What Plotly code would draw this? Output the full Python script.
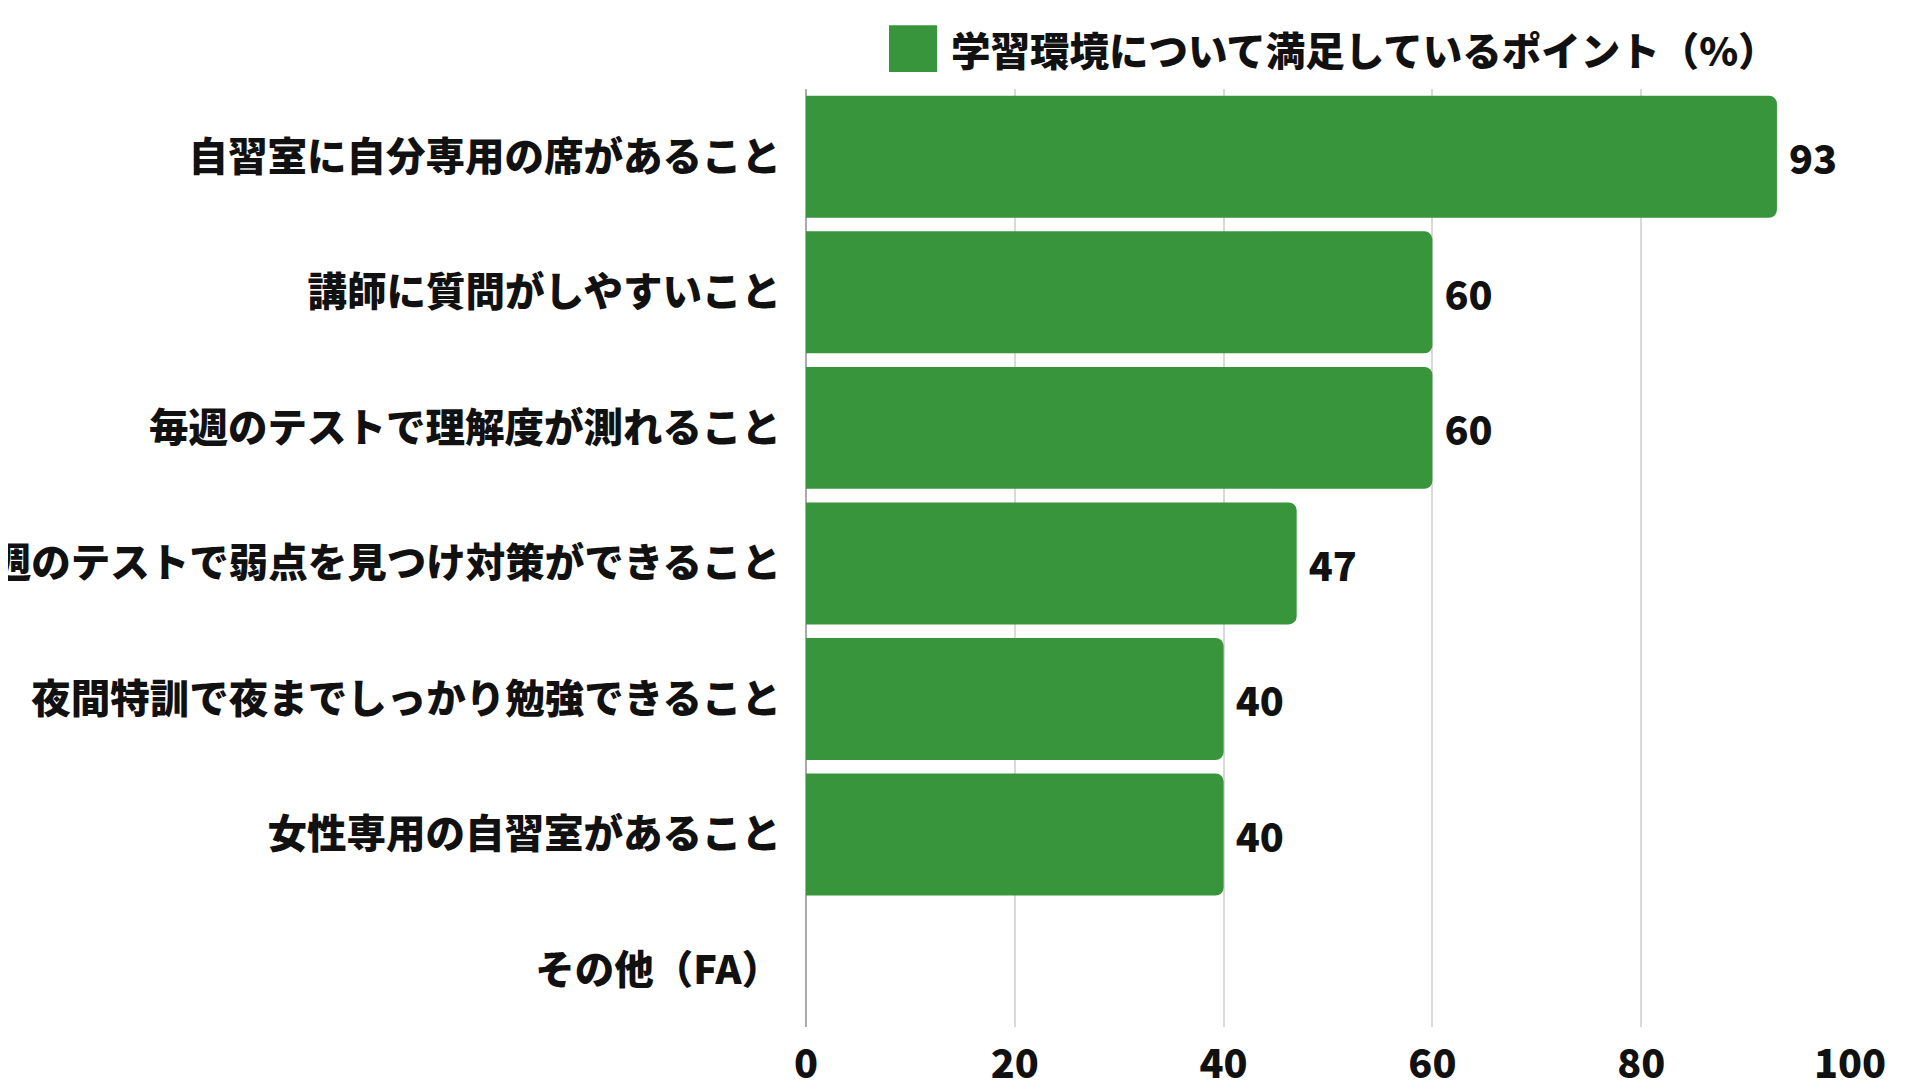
import plotly.graph_objects as go

# ─── データ ───────────────────────────────────────────────────────────────
categories = [
    "自習室に自分専用の席があること",
    "講師に質問がしやすいこと",
    "毎週のテストで理解度が測れること",
    "毎週のテストで弱点を見つけ対策ができること",
    "夜間特訓で夜までしっかり勉強できること",
    "女性専用の自習室があること",
    "その他（FA）",
]
values = [93, 60, 60, 47, 40, 40, None]
value_labels = ["93", "60", "60", "47", "40", "40", ""]
series_name = "学習環境について満足しているポイント（%）"
x_ticks = [0, 20, 40, 60, 80, 100]

GREEN = "#38953B"
FONT = "Noto Sans CJK JP"
TXT = dict(family=FONT, size=39.5, color="#111111", weight=900)

fig = go.Figure()
fig.add_trace(go.Bar(
    x=values,
    y=categories,
    orientation="h",
    marker=dict(color=GREEN, line=dict(width=0)),
    text=value_labels,
    texttemplate="\u00a0%{text}",
    textposition="outside",
    textfont=TXT,
    cliponaxis=False,
    name=series_name,
    showlegend=False,
))

# 凡例（大きめの四角 + テキスト）
fig.add_shape(
    type="rect", xref="paper", yref="paper",
    x0=0.0795, x1=0.1255, y0=1.018, y1=1.068,
    fillcolor=GREEN, line=dict(width=0),
)
fig.add_annotation(
    text=series_name, xref="paper", yref="paper",
    x=0.137, y=1.0437, xanchor="left", yanchor="middle",
    showarrow=False,
    font=TXT,
)

# ページ既定の body 余白 (8px) を差し引いた余白
fig.update_layout(
    width=1920, height=1080,
    margin=dict(l=798, r=78, t=81, b=61),
    plot_bgcolor="white",
    paper_bgcolor="white",
    bargap=0.1,
    barcornerradius=8,
    font=TXT,
)
fig.update_xaxes(
    range=[0, 100],
    tickvals=x_ticks,
    showgrid=True, gridcolor="#d9d9d9", gridwidth=1.5,
    zeroline=True, zerolinecolor="#aaaaaa", zerolinewidth=1.5,
    showline=False,
    ticklabelstandoff=10,
    tickfont=TXT,
    automargin=False,
)
fig.update_yaxes(
    categoryorder="array", categoryarray=categories,
    range=[6.42, -0.5],
    showgrid=False, zeroline=False, showline=False,
    ticks="", ticklabelstandoff=24,
    tickfont=TXT,
    automargin=False,
)

fig.write_html("out.html")
